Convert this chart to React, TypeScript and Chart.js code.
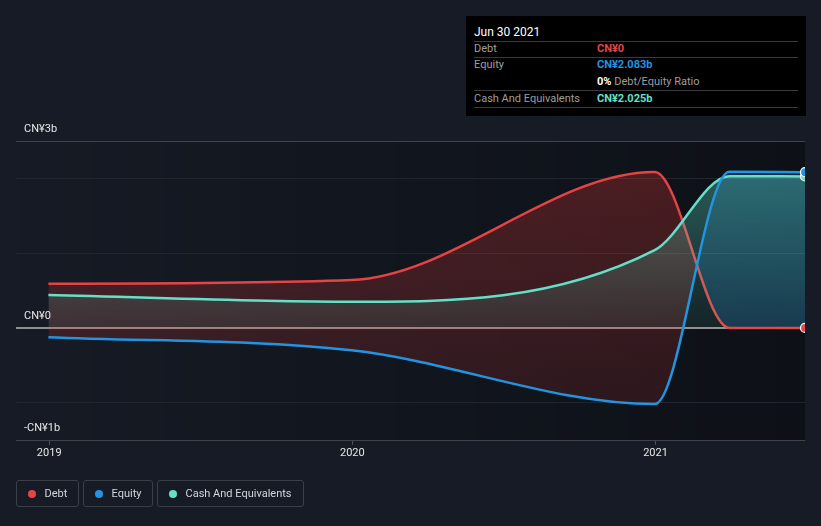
import React, { useEffect, useRef } from 'react';
import { Chart, registerables } from 'chart.js';

Chart.register(...registerables);

// ---- data ----
const DATES = ['2018-12-31', '2019-12-31', '2020-12-31', '2021-03-31', '2021-06-30'];
const DEBT = [0.59, 0.64, 2.085, 0, 0];
const EQUITY = [-0.125, -0.3, -1.02, 2.09, 2.083];
const CASH = [0.44, 0.35, 1.04, 2.03, 2.025];
const X_MIN_DATE = '2018-11-22';
const X_TICK_VALUES = [2019, 2020, 2021];
const X_TICK_LABELS = ['2019', '2020', '2021'];
const Y_MIN = -1.5;
const Y_MAX = 2.5;
const Y_GRID_VALUES = [-1.5, -1, 0, 1, 2, 2.5];
const Y_LABEL_VALUES = [2.5, 0, -1.5];
const Y_LABEL_TEXTS = ['CN¥3b', 'CN¥0', '-CN¥1b'];

const DEBT_COLOR = '#e64444';
const EQUITY_COLOR = '#2394e0';
const CASH_COLOR = '#64e0c8';
const BG = '#161b25';
const FONT = 'Roboto, "Open Sans", sans-serif';

function toYear(d: string): number {
  const [y, m, day] = d.split('-').map(Number);
  const start = Date.UTC(y, 0, 1);
  const end = Date.UTC(y + 1, 0, 1);
  const t = Date.UTC(y, m - 1, day);
  return y + (t - start) / (end - start);
}

const XS = DATES.map(toYear);
const X_MIN = toYear(X_MIN_DATE);
const X_MAX = XS[XS.length - 1];

const bgPlugin = {
  id: 'plotBg',
  beforeDraw(chart: any) {
    const { ctx, chartArea: a } = chart;
    if (!a) return;
    const g = ctx.createLinearGradient(a.left, 0, a.right, 0);
    g.addColorStop(0, 'rgba(0,0,0,0)');
    g.addColorStop(1, 'rgba(0,0,0,0.38)');
    ctx.save();
    ctx.fillStyle = g;
    ctx.fillRect(a.left, a.top, a.right - a.left, a.bottom - a.top);
    ctx.restore();
  },
};

const yLabelPlugin = {
  id: 'yLabels',
  afterDraw(chart: any) {
    const { ctx } = chart;
    const y = chart.scales.y;
    ctx.save();
    ctx.font = `11px ${FONT}`;
    ctx.fillStyle = '#e6e6e6';
    ctx.textAlign = 'left';
    ctx.textBaseline = 'middle';
    Y_LABEL_VALUES.forEach((v, i) => {
      ctx.fillText(Y_LABEL_TEXTS[i], 24, y.getPixelForValue(v) - 11.5);
    });
    ctx.restore();
  },
};

function lineDs(label: string, values: number[], color: string, extra: any) {
  const n = values.length;
  return {
    label,
    data: XS.map((x, i) => ({ x, y: values[i] })),
    borderColor: color,
    borderWidth: 2.5,
    pointRadius: (c: any) => (c.dataIndex === n - 1 ? 4.5 : 0),
    pointHoverRadius: 0,
    pointBackgroundColor: color,
    pointBorderColor: '#ffffff',
    pointBorderWidth: 1.2,
    cubicInterpolationMode: 'monotone',
    clip: 0,
    ...extra,
  };
}

function ChartView() {
  const ref = useRef<HTMLCanvasElement>(null);
  useEffect(() => {
    if (!ref.current) return;
    Chart.defaults.font.family = FONT;
    const chart = new Chart(ref.current, {
      type: 'line',
      data: {
        datasets: [
          lineDs('Equity', EQUITY, EQUITY_COLOR, { fill: false }),
          lineDs('Cash And Equivalents', CASH, CASH_COLOR, {
            fill: 'origin',
            backgroundColor: 'rgba(88,212,190,0.2)',
          }),
          lineDs('Debt', DEBT, DEBT_COLOR, {
            fill: { target: 0, above: 'rgba(229,57,53,0.2)', below: 'rgba(33,150,243,0.2)' },
            backgroundColor: 'rgba(229,57,53,0.2)',
          }),
        ],
      } as any,
      options: {
        animation: false,
        responsive: false,
        maintainAspectRatio: false,
        events: [],
        layout: { padding: { left: 16, right: 16, top: 141, bottom: 66 } },
        plugins: { legend: { display: false }, tooltip: { enabled: false } },
        scales: {
          x: {
            type: 'linear',
            min: X_MIN,
            max: X_MAX,
            afterBuildTicks: (s: any) => {
              s.ticks = X_TICK_VALUES.map((v) => ({ value: v }));
            },
            afterFit: (s: any) => {
              s.height = 20;
            },
            ticks: {
              callback: (_v: any, i: number) => X_TICK_LABELS[i],
              color: '#e6e6e6',
              font: { size: 11, family: FONT },
              padding: 2,
              maxRotation: 0,
              autoSkip: false,
            },
            grid: { drawOnChartArea: false, drawTicks: true, tickLength: 5, color: '#4b5059' },
            border: { display: false },
          },
          y: {
            type: 'linear',
            min: Y_MIN,
            max: Y_MAX,
            afterBuildTicks: (s: any) => {
              s.ticks = Y_GRID_VALUES.map((v) => ({ value: v }));
            },
            afterFit: (s: any) => {
              s.width = 0;
            },
            ticks: { display: false },
            grid: {
              drawTicks: false,
              color: (c: any) => {
                const v = c.tick ? c.tick.value : null;
                if (v === 0) return '#8f8f90';
                if (v === Y_MIN || v === Y_MAX) return '#3f444c';
                return '#21262e';
              },
              lineWidth: (c: any) => (c.tick && c.tick.value === 0 ? 2 : 1),
            },
            border: { display: false },
          },
        },
      } as any,
      plugins: [bgPlugin, yLabelPlugin],
    });

    // gradients based on the laid-out scales
    const a = chart.chartArea;
    const yScale = chart.scales.y;
    const zero = yScale.getPixelForValue(0);
    const ctx = chart.ctx;
    const teal = ctx.createLinearGradient(0, a.top, 0, zero);
    teal.addColorStop(0, 'rgba(88,212,190,0.44)');
    teal.addColorStop(1, 'rgba(88,212,190,0.09)');
    const red = ctx.createLinearGradient(0, a.top, 0, a.bottom);
    red.addColorStop(0, 'rgba(229,57,53,0.30)');
    red.addColorStop(1, 'rgba(229,57,53,0.11)');
    const ds: any = chart.data.datasets;
    ds[1].backgroundColor = teal;
    ds[2].fill = { target: 0, above: red, below: 'rgba(33,150,243,0.2)' };
    chart.update('none');

    return () => chart.destroy();
  }, []);
  return <canvas ref={ref} width={821} height={526} style={{ display: 'block' }} />;
}

const LEGEND_ITEMS = ['Debt', 'Equity', 'Cash And Equivalents'];
const LEGEND_COLORS = [DEBT_COLOR, EQUITY_COLOR, CASH_COLOR];
const LEGEND_LEFT = [16, 83, 157];
const LEGEND_WIDTH = [62.5, 69.5, 146.5];

function Legend() {
  return (
    <>
      {LEGEND_ITEMS.map((t, i) => (
        <div
          key={t}
          style={{
            position: 'absolute',
            left: LEGEND_LEFT[i],
            top: 480,
            width: LEGEND_WIDTH[i],
            height: 27,
            boxSizing: 'border-box',
            border: '1px solid #3a3f48',
            borderRadius: 3,
            display: 'flex',
            alignItems: 'center',
            paddingLeft: 11,
            fontFamily: FONT,
            fontSize: 11,
            color: '#d2d5da',
            whiteSpace: 'nowrap',
          }}
        >
          <span
            style={{
              width: 8,
              height: 8,
              borderRadius: 4,
              background: LEGEND_COLORS[i],
              marginRight: 8.5,
              flex: 'none',
            }}
          />
          {t}
        </div>
      ))}
    </>
  );
}

const TIP_TITLE = 'Jun 30 2021';
const TIP_DEBT = 'CN¥0';
const TIP_EQUITY = 'CN¥2.083b';
const TIP_RATIO = '0%';
const TIP_CASH = 'CN¥2.025b';

function TipBox() {
  const line = (top: number) => (
    <div style={{ position: 'absolute', left: 8, width: 324, top, height: 1, background: '#3a3a3a' }} />
  );
  const txt = (left: number, top: number, content: any, style: any = {}) => (
    <div
      style={{
        position: 'absolute',
        left,
        top: top - 7,
        height: 14,
        lineHeight: '14px',
        fontSize: 11,
        whiteSpace: 'nowrap',
        ...style,
      }}
    >
      {content}
    </div>
  );
  return (
    <div
      style={{
        position: 'absolute',
        left: 466,
        top: 16,
        width: 340,
        height: 100,
        background: '#000000',
        fontFamily: FONT,
        color: '#9e9e9e',
      }}
    >
      {txt(8, 15.5, TIP_TITLE, { color: '#ffffff', fontSize: 12 })}
      {line(24.5)}
      {txt(8, 32.5, 'Debt')}
      {txt(131, 32.5, TIP_DEBT, { color: DEBT_COLOR, fontWeight: 700 })}
      {line(41)}
      {txt(8, 49, 'Equity')}
      {txt(131, 49, TIP_EQUITY, { color: EQUITY_COLOR, fontWeight: 700 })}
      {txt(131, 65.5, (
        <span>
          <b style={{ color: '#ffffff' }}>{TIP_RATIO}</b> Debt/Equity Ratio
        </span>
      ))}
      {line(74)}
      {txt(8, 82.5, 'Cash And Equivalents')}
      {txt(131, 82.5, TIP_CASH, { color: CASH_COLOR, fontWeight: 700 })}
      {line(91)}
    </div>
  );
}

export default function App() {
  return (
    <div style={{ position: 'fixed', left: 0, top: 0, width: 821, height: 526, background: BG, overflow: 'hidden' }}>
      <ChartView />
      <TipBox />
      <Legend />
    </div>
  );
}
